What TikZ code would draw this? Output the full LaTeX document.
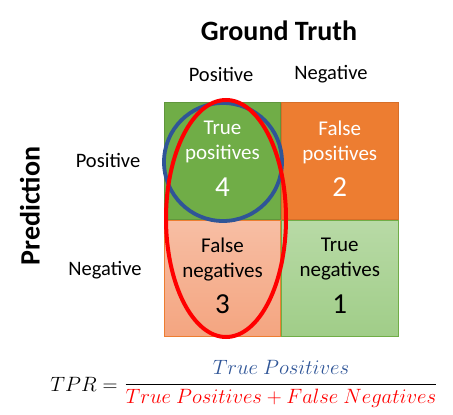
\documentclass[tikz,border=0pt]{standalone}
\usepackage{fontspec}
\setmainfont{Carlito}
\usetikzlibrary{positioning}
\definecolor{tpgreen}{RGB}{112,173,71}
\definecolor{tpedge}{RGB}{96,150,60}
\definecolor{fporange}{RGB}{237,125,49}
\definecolor{fpedge}{RGB}{215,110,40}
\definecolor{fntop}{RGB}{247,190,164}
\definecolor{fnbot}{RGB}{244,165,128}
\definecolor{tntop}{RGB}{184,218,166}
\definecolor{tnbot}{RGB}{160,205,136}
\definecolor{tpblue}{RGB}{47,85,151}
\definecolor{fnred}{RGB}{255,0,0}

\begin{document}
\begin{tikzpicture}[x=1pt, y=-1pt,
  cell/.style={draw, line width=0.8pt, minimum width=116.5pt, minimum height=116.5pt, inner sep=0pt},
  celltext/.style={align=center, font=\fontsize{21}{25}\selectfont},
  cellnum/.style={font=\fontsize{29}{30}\selectfont},
  label/.style={font=\fontsize{20.5}{24}\selectfont},
  title/.style={font=\bfseries\fontsize{28}{32}\selectfont},
  formula/.style={font=\fontsize{22.5}{26}\selectfont}]

\useasboundingbox (0,0) rectangle (453,415);

% The four cells of the matrix
\node[cell, fill=tpgreen, draw=tpedge] (tp) at (222.5,161) {};
\node[cell, fill=fporange, draw=fpedge, right=0pt of tp] (fp) {};
\node[cell, top color=fntop, bottom color=fnbot, draw=fporange, below=0pt of tp] (fn) {};
\node[cell, top color=tntop, bottom color=tnbot, draw=tpgreen, right=0pt of fn] (tn) {};

% Cell texts and counts
\node[celltext, white] (tp-t) at ([yshift=19pt]tp.center) {True\\positives};
\node[cellnum, white] (tp-n) at ([yshift=-26pt]tp.center) {4};
\node[celltext, white] (fp-t) at ([yshift=19pt]fp.center) {False\\positives};
\node[cellnum, white] (fp-n) at ([yshift=-26pt]fp.center) {2};
\node[celltext] (fn-t) at ([yshift=19pt]fn.center) {False\\negatives};
\node[cellnum] (fn-n) at ([yshift=-26pt]fn.center) {3};
\node[celltext] (tn-t) at ([yshift=19pt]tn.center) {True\\negatives};
\node[cellnum] (tn-n) at ([yshift=-26pt]tn.center) {1};

% Headings
\node[title] (truth) at (279,31) {Ground Truth};
\node[title, rotate=90] (pred) at (30,206) {Prediction};
\node[label] (col-pos) at (221,74) {Positive};
\node[label] (col-neg) at (331,74) {Negative};
\node[label] (row-pos) at (108,160) {Positive};
\node[label] (row-neg) at (105,270) {Negative};

% Circles marking the TPR terms
\draw[tpblue, line width=3.8pt] (223,162) circle (59);
\draw[fnred, line width=4pt] (226,218.5) ellipse (60 and 118.5);

% TPR formula
\node[formula] (frac) at (281,384)
  {$\displaystyle\frac{\color{tpblue}True\ Positives}{\color{fnred}True\ Positives + False\ Negatives}$};
\node[formula, left=0pt of frac] (tpr) {$TPR =$};

\end{tikzpicture}
\end{document}
